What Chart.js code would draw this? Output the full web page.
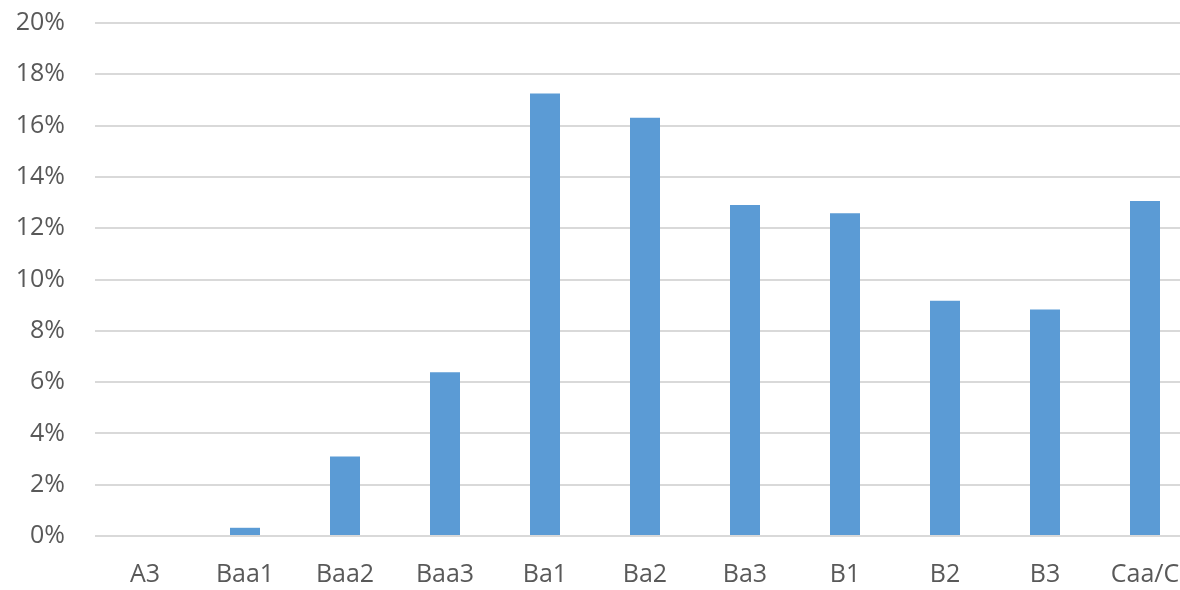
<!DOCTYPE html>
<html>
<head>
<meta charset="utf-8">
<script src="https://cdn.jsdelivr.net/npm/chart.js@4/dist/chart.umd.min.js"></script>
<style>
  html, body { margin: 0; padding: 0; background: #ffffff; overflow: hidden; }
  #wrap { width: 1195px; height: 590px; position: relative; }
</style>
</head>
<body>
<div id="wrap"><canvas id="chart"></canvas></div>
<script>
// Rating grades along the x axis
const categories = ['A3', 'Baa1', 'Baa2', 'Baa3', 'Ba1', 'Ba2', 'Ba3', 'B1', 'B2', 'B3', 'Caa/C'];
// Share per grade, in percent
const shareValues = [0, 0.32, 3.1, 6.38, 17.25, 16.31, 12.9, 12.58, 9.17, 8.83, 13.06];
// Value axis range and step, in percent
const yMin = 0;
const yMax = 20;
const yStep = 2;

const labelFont = { family: "'Open Sans', 'Liberation Sans', sans-serif", size: 25 };
const labelColor = '#595959';

new Chart(document.getElementById('chart'), {
  type: 'bar',
  data: {
    labels: categories,
    datasets: [{
      data: shareValues,
      backgroundColor: '#5b9bd5',
      borderWidth: 0,
      categoryPercentage: 1.0,
      barPercentage: 0.3
    }]
  },
  options: {
    responsive: true,
    maintainAspectRatio: false,
    animation: false,
    layout: { padding: { top: 23, right: 0, bottom: 0, left: 0 } },
    plugins: {
      legend: { display: false },
      tooltip: { enabled: false }
    },
    scales: {
      x: {
        grid: { display: false, drawTicks: false },
        border: { display: false },
        ticks: { color: labelColor, font: labelFont, padding: 24, maxRotation: 0, autoSkip: false },
        afterFit: (scale) => {
          scale.height = 54;
          scale.paddingLeft = 0;
          scale.paddingRight = 0;
        }
      },
      y: {
        min: yMin,
        max: yMax,
        grid: { color: '#d9d9d9', lineWidth: 2, drawTicks: false },
        border: { display: false },
        ticks: {
          stepSize: yStep,
          color: labelColor,
          font: labelFont,
          padding: 30,
          callback: (v) => v + '%'
        },
        afterFit: (scale) => {
          scale.width = 95;
          scale.paddingTop = 0;
          scale.paddingBottom = 0;
        }
      }
    }
  }
});
</script>
</body>
</html>
